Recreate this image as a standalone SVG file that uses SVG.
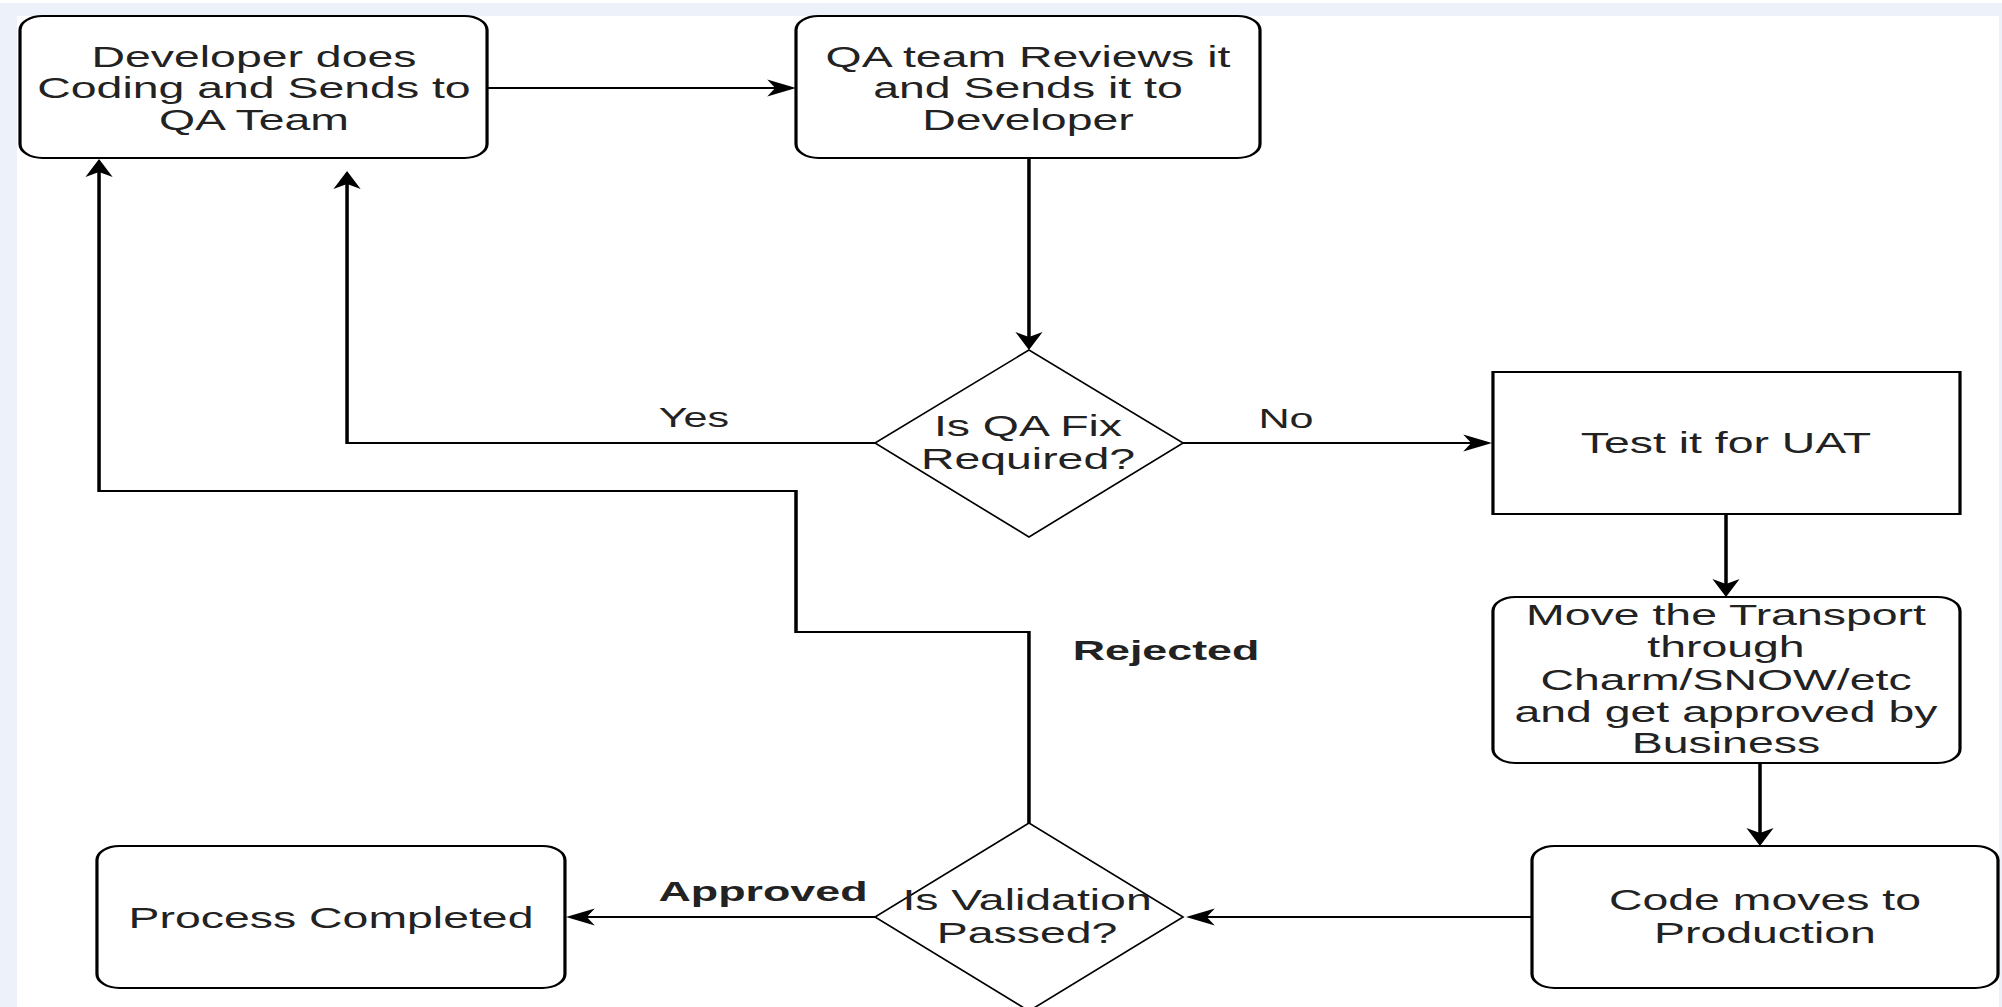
<svg xmlns="http://www.w3.org/2000/svg" width="2002" height="1007" viewBox="0 0 2002 1007">
<style>
.node{fill:#ffffff;stroke:#000000;stroke-width:2}
.dia{fill:#ffffff;stroke:#000000;stroke-width:1.4}
.edge{fill:none;stroke:#000000;stroke-width:2.2}
.t{font-family:"Liberation Sans",Arial,Helvetica,sans-serif;font-size:29px;fill:#222222;text-anchor:middle}
.lbl{font-family:"Liberation Sans",Arial,Helvetica,sans-serif;font-size:27px;fill:#222222;text-anchor:middle}
.blbl{font-family:"Liberation Sans",Arial,Helvetica,sans-serif;font-size:28px;font-weight:bold;fill:#222222;text-anchor:middle}
</style>
<defs>
<marker id="arr" markerUnits="userSpaceOnUse" markerWidth="18" markerHeight="17" refX="14" refY="8.5" orient="auto" overflow="visible">
<path d="M0,0 L18,8.5 L0,17 L5,8.5 Z" fill="#000000"/>
</marker>
</defs>
<rect x="0" y="0" width="2002" height="1007" fill="#ffffff"/>
<rect x="0" y="3" width="2002" height="13" fill="#edf1fa"/>
<rect x="0" y="3" width="17" height="1004" fill="#edf1fa"/>
<rect x="1999" y="3" width="3" height="1004" fill="#edf1fa"/>
<g transform="scale(1.6,1)">
<g id="connectors">
<path id="e-dev-qa" class="edge" d="M304.4,88 H493.5" marker-end="url(#arr)"/>
<path id="e-qa-d1" class="edge" d="M643.1,158 V346" marker-end="url(#arr)"/>
<path id="e-yes" class="edge" d="M546.9,443 H216.9 V175" marker-end="url(#arr)"/>
<path id="e-no" class="edge" d="M739.4,443 H928.5" marker-end="url(#arr)"/>
<path id="e-uat-move" class="edge" d="M1078.75,514 V593" marker-end="url(#arr)"/>
<path id="e-move-code" class="edge" d="M1100,763 V842" marker-end="url(#arr)"/>
<path id="e-code-d2" class="edge" d="M957.5,917 H745.25" marker-end="url(#arr)"/>
<path id="e-approved" class="edge" d="M546.9,917 H357.75" marker-end="url(#arr)"/>
<path id="e-rejected" class="edge" d="M643.1,823 V632 H497.5 V491 H61.9 V163" marker-end="url(#arr)"/>
<text class="lbl" x="433.75" y="427">Yes</text>
<text class="lbl" x="803.75" y="428">No</text>
<text class="blbl" x="728.75" y="660">Rejected</text>
<text class="blbl" x="476.9" y="901">Approved</text>
</g>
<g id="n-dev">
<rect class="node" x="12.5" y="16" width="291.9" height="142" rx="14" ry="14"/>
<text class="t" x="158.75" y="67">Developer does</text>
<text class="t" x="158.75" y="98">Coding and Sends to</text>
<text class="t" x="158.75" y="130">QA Team</text>
</g>
<g id="n-qa">
<rect class="node" x="497.5" y="16" width="290" height="142" rx="14" ry="14"/>
<text class="t" x="642.5" y="67">QA team Reviews it</text>
<text class="t" x="642.5" y="98">and Sends it to</text>
<text class="t" x="642.5" y="130">Developer</text>
</g>
<g id="n-d1">
<polygon class="dia" points="643.1,350 739.4,443 643.1,537 546.9,443"/>
<text class="t" x="642.5" y="436">Is QA Fix</text>
<text class="t" x="642.5" y="469">Required?</text>
</g>
<g id="n-uat">
<rect class="node" x="933.1" y="372" width="291.9" height="142"/>
<text class="t" x="1078.75" y="453">Test it for UAT</text>
</g>
<g id="n-move">
<rect class="node" x="933.1" y="597" width="291.9" height="166" rx="14" ry="14"/>
<text class="t" x="1078.75" y="625">Move the Transport</text>
<text class="t" x="1078.75" y="657">through</text>
<text class="t" x="1078.75" y="690">Charm/SNOW/etc</text>
<text class="t" x="1078.75" y="722">and get approved by</text>
<text class="t" x="1078.75" y="753">Business</text>
</g>
<g id="n-code">
<rect class="node" x="957.5" y="846" width="291.25" height="142" rx="14" ry="14"/>
<text class="t" x="1103.1" y="910">Code moves to</text>
<text class="t" x="1103.1" y="943">Production</text>
</g>
<g id="n-d2">
<polygon class="dia" points="643.1,823 739.4,917 643.1,1011 546.9,917"/>
<text class="t" x="641.9" y="910">Is Validation</text>
<text class="t" x="641.9" y="943">Passed?</text>
</g>
<g id="n-proc">
<rect class="node" x="60.6" y="846" width="292.5" height="142" rx="14" ry="14"/>
<text class="t" x="206.9" y="928">Process Completed</text>
</g>
</g>
</svg>
